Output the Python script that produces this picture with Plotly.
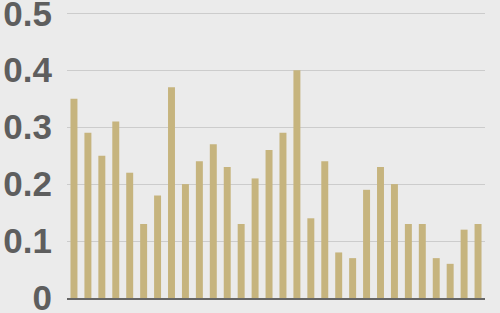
import plotly.graph_objects as go

categories = [str(i) for i in range(1, 31)]
values = [0.35, 0.29, 0.25, 0.31, 0.22, 0.13, 0.18, 0.37, 0.20, 0.24,
          0.27, 0.23, 0.13, 0.21, 0.26, 0.29, 0.40, 0.14, 0.24, 0.08,
          0.07, 0.19, 0.23, 0.20, 0.13, 0.13, 0.07, 0.06, 0.12, 0.13]
tick_vals = [0, 0.1, 0.2, 0.3, 0.4, 0.5]
tick_text = ["0", "0.1", "0.2", "0.3", "0.4", "0.5"]

fig = go.Figure(go.Bar(x=categories, y=values, marker_color="#c6b47e",
                       marker_line_width=0, width=0.5))
fig.update_layout(
    width=500, height=313,
    margin=dict(l=67, r=15, t=11, b=15),
    paper_bgcolor="#ebebeb", plot_bgcolor="#ebebeb",
    showlegend=False, bargap=0.5,
)
fig.update_xaxes(showticklabels=False, showgrid=False, showline=True,
                 linecolor="#666666", linewidth=2, ticks="", automargin=False)
fig.update_yaxes(range=[0, 0.504], tickvals=tick_vals, ticktext=tick_text,
                 showgrid=True, gridcolor="#cccccc", gridwidth=1,
                 zeroline=False, ticks="", ticklabelstandoff=14,
                 ticklabeloverflow="allow", automargin=False,
                 tickfont=dict(family="Liberation Sans, Arial", size=35,
                               color="#5e5e5e", weight="bold"))
fig.write_html("out.html")
